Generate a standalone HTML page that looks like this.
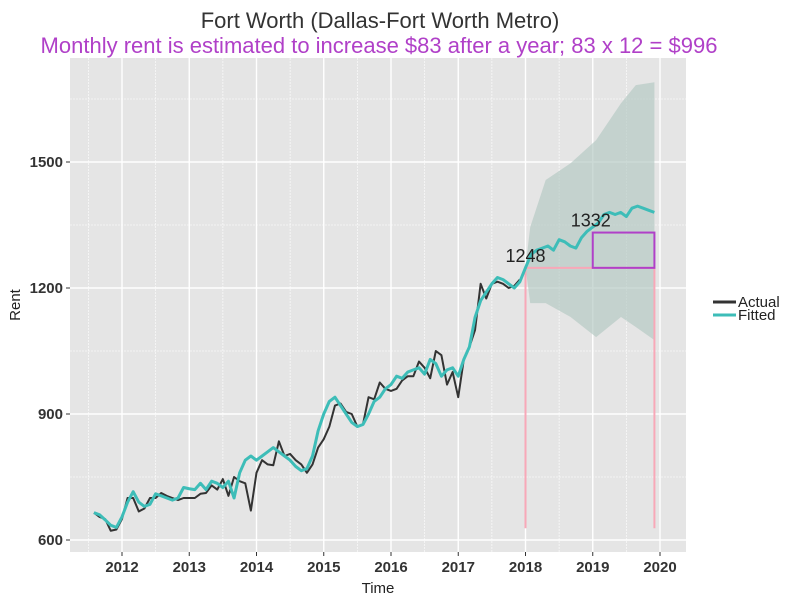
<!DOCTYPE html>
<html><head><meta charset="utf-8"><style>
body{margin:0;background:#fff;font-family:"Liberation Sans",sans-serif}
svg text{font-family:"Liberation Sans",sans-serif}
</style></head><body>
<svg id="c" width="800" height="600"></svg>
<script>
const yTicks=[600,900,1200,1500];
const xTicks=[2012,2013,2014,2015,2016,2017,2018,2019,2020];
const actualStart=2011.583;
const actual=[665,655,650,622,625,650,700,700,668,675,700,700,712,705,700,695,700,700,700,710,712,730,720,745,705,750,740,735,670,760,790,780,778,835,800,805,790,780,760,780,820,840,870,920,925,905,900,870,875,940,935,975,960,955,960,980,990,990,1025,1010,985,1050,1040,970,1000,940,1030,1060,1100,1210,1175,1210,1215,1210,1200,1205,1220];
const fitted=[665,660,648,635,630,
655,690,715,690,680,685,710,705,700,695,700,725,
722,720,735,720,740,735,725,740,700,760,790,800,
790,800,810,820,810,800,790,775,765,770,800,860,
900,930,940,920,900,880,870,875,900,930,940,960,
970,990,985,1000,1005,1010,995,1030,1020,990,1005,1010,
990,1030,1060,1130,1170,1190,1210,1225,1220,1210,1200,1215,
1248,1280,1290,1295,1300,1290,1315,1310,1300,1295,1320,1335,
1345,1355,1375,1380,1375,1380,1370,1390,1395,1390,1385,1380];
const bandT=[2018.0,2018.07,2018.3,2018.67,2019.05,2019.42,2019.64,2019.917];
const bandUpper=[1250,1345,1457,1497,1552,1640,1683,1690];
const bandLower=[1250,1164,1164,1131,1083,1131,1107,1076];
const startLevel=1248, endLevel=1332, baseLevel=628;

const NS="http://www.w3.org/2000/svg",svg=document.getElementById('c');
const L=70,R=686,T=58,B=552;
const x=t=>122+(t-2012)*67.25;
const y=v=>540-(v-600)*0.42;
function mk(tag,at,parent){const e=document.createElementNS(NS,tag);for(const k in at)e.setAttribute(k,at[k]);(parent||svg).appendChild(e);return e;}
function txt(s,at){const e=mk('text',at);e.textContent=s;return e;}

let e=mk('rect',{x:L,y:T,width:R-L,height:B-T,fill:'#e5e5e5'});

for(let i=0;i<yTicks.length-1;i++){const v=(yTicks[i]+yTicks[i+1])/2;mk('line',{x1:L,x2:R,y1:y(v),y2:y(v),stroke:'#fff','stroke-width':0.6,'stroke-dasharray':'2,1'});}
mk('line',{x1:L,x2:R,y1:y(1650),y2:y(1650),stroke:'#fff','stroke-width':0.6,'stroke-dasharray':'2,1'});
for(let i=0;i<xTicks.length;i++){const t=xTicks[i]-0.5;mk('line',{x1:x(t),x2:x(t),y1:T,y2:B,stroke:'#fff','stroke-width':0.6,'stroke-dasharray':'2,1'});}
yTicks.forEach(v=>{mk('line',{x1:L,x2:R,y1:y(v),y2:y(v),stroke:'#fff','stroke-width':1.4});
 mk('line',{x1:L-4,x2:L,y1:y(v),y2:y(v),stroke:'#333'});
 const t=txt(v,{x:L-7,y:y(v)+5,'text-anchor':'end','font-size':15,'font-weight':'bold',fill:'#333'});
 });
xTicks.forEach(v=>{mk('line',{x1:x(v),x2:x(v),y1:T,y2:B,stroke:'#fff','stroke-width':1.4});
 mk('line',{x1:x(v),x2:x(v),y1:B,y2:B+4,stroke:'#333'});
 const t=txt(v,{x:x(v),y:B+20,'text-anchor':'middle','font-size':15,'font-weight':'bold',fill:'#333'});
 });
let d=bandT.map((t,i)=>(i?'L':'M')+x(t)+','+y(bandUpper[i])).join('');
for(let i=bandT.length-1;i>=0;i--)d+='L'+x(bandT[i])+','+y(bandLower[i]);
e=mk('path',{d:d+'Z',fill:'#b7cbc5','fill-opacity':0.7});

const t0=2018,t1=2019.917;
e=mk('polyline',{points:`${x(t0)},${y(baseLevel)} ${x(t0)},${y(startLevel)} ${x(t1)},${y(startLevel)} ${x(t1)},${y(baseLevel)}`,fill:'none',stroke:'#f8a8b8','stroke-width':2});

e=mk('rect',{x:x(2019),y:y(endLevel),width:x(t1)-x(2019),height:y(startLevel)-y(endLevel),fill:'none',stroke:'#b040c8','stroke-width':2});

function line(arr,col,w,name){const p=arr.map((v,i)=>x(actualStart+i/12)+','+y(v)).join(' ');
 const el=mk('polyline',{points:p,fill:'none',stroke:col,'stroke-width':w,'stroke-linejoin':'round'});
 }
line(actual,'#333',2,'actual-line');
line(fitted,'#3dbdb8',3,'fitted-line');
e=txt(startLevel,{x:x(2018)-20,y:y(startLevel)-6,'font-size':18,fill:'#222'});

e=txt(endLevel,{x:x(2019)-22,y:y(endLevel)-6,'font-size':18,fill:'#222'});

e=txt('Fort Worth (Dallas-Fort Worth Metro)',{x:380,y:28,'text-anchor':'middle','font-size':22,fill:'#333'});

e=txt('Monthly rent is estimated to increase $83 after a year; 83 x 12 = $996',{x:379,y:53,'text-anchor':'middle','font-size':22,fill:'#b040c8'});

e=txt('Time',{x:378,y:593,'text-anchor':'middle','font-size':15,fill:'#222'});

e=txt('Rent',{x:20,y:305,'text-anchor':'middle','font-size':15,fill:'#222',transform:'rotate(-90 20 305)'});

[['Actual','#333',302],['Fitted','#3dbdb8',315]].forEach(([n,c,yy])=>{
 const g=mk('g',{});
 mk('line',{x1:713,x2:736,y1:yy,y2:yy,stroke:c,'stroke-width':3},g);
 const t=mk('text',{x:738,y:yy+5,'font-size':15,fill:'#222'},g);t.textContent=n;});
</script>
</body></html>
